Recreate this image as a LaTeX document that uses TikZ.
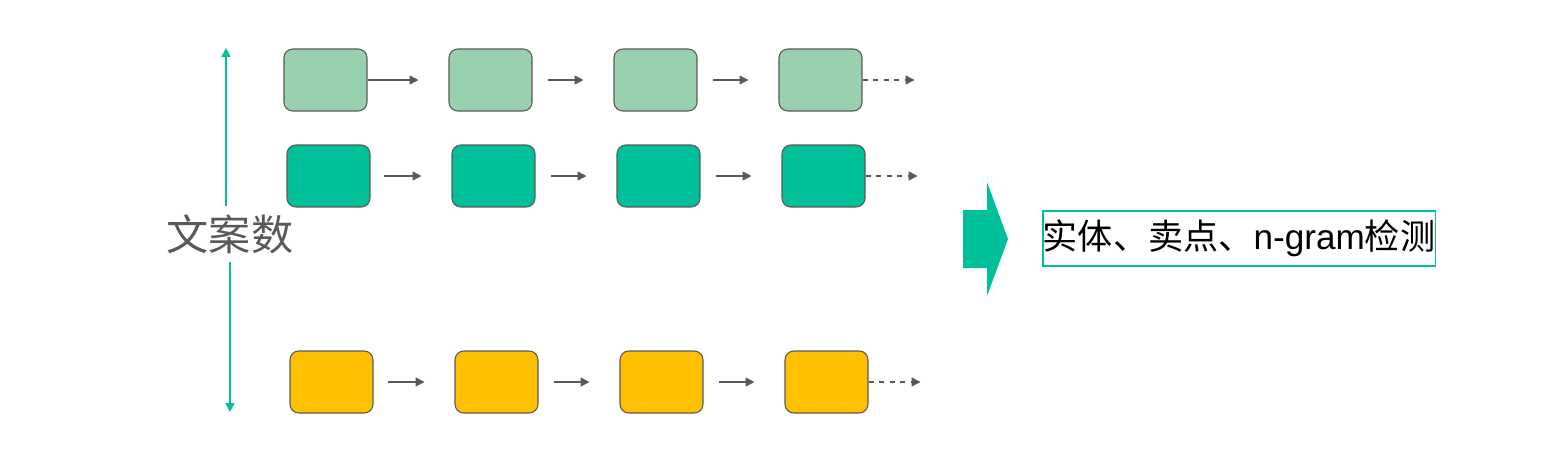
\documentclass[tikz,border=0pt]{standalone}
\usepackage{fontspec}
\setmainfont{Liberation Sans}
\newfontfamily\cjk{Noto Sans CJK SC}
\usetikzlibrary{arrows.meta}
\definecolor{lg}{HTML}{99D0AE}
\definecolor{tl}{HTML}{00C09A}
\definecolor{yl}{HTML}{FFC000}
\definecolor{gr}{HTML}{595959}
\begin{document}
\begin{tikzpicture}[x=0.02cm,y=-0.02cm,
 bx/.style={draw=gr,line width=0.6pt,rounded corners=5pt,minimum width=1.66cm,minimum height=1.24cm,inner sep=0pt},
 ar/.style={draw=gr,line width=0.8pt,-{Triangle[length=5pt,width=5pt]}},
 da/.style={ar,dashed}]
\useasboundingbox (0,0) rectangle (1552,474);
\foreach \r/\y/\x/\c/\g in {a/80/284/lg/0,b/176/287/tl/13,c/382/290/yl/14}{
  \foreach \i in {0,1,2,3}{
    \node[bx,fill=\c] (\r\i) at ({\x+41.5+165*\i},\y) {};
  }
  \draw[ar] ([xshift=\g*0.02cm]\r0.east) -- ([xshift=-30*0.02cm]\r1.west);
  \foreach \i/\j in {1/2,2/3}{
    \draw[ar] ([xshift=15*0.02cm]\r\i.east) -- ([xshift=-30*0.02cm]\r\j.west);
  }
  \coordinate (\r e) at ([xshift=52*0.02cm]\r3.east);
  \draw[da] (\r3.east) -- (\r e);
}
\node[font=\cjk,text=gr] (lbl) at (230,234) {\fontsize{24}{24}\selectfont 文案数};
\coordinate (top) at (226,48);
\coordinate (bot) at (230,412);
\draw[tl,line width=0.8pt,-{Triangle[length=5pt,width=5pt]}] (226,206) -- (top);
\draw[tl,line width=0.8pt,-{Triangle[length=5pt,width=5pt]}] (230,262) -- (bot);
\fill[tl] (963,210) -- (987,210) -- (987,182) -- (1008,239) -- (987,296) -- (987,268) -- (963,268) -- cycle;
\node[draw=tl,line width=0.8pt,minimum width=7.84cm,minimum height=1.1cm,inner sep=0pt] (res) at (1239,238.5) {\fontsize{20}{20}\selectfont{\cjk 实体、卖点、}n-gram{\cjk 检测}};
\end{tikzpicture}
\end{document}
